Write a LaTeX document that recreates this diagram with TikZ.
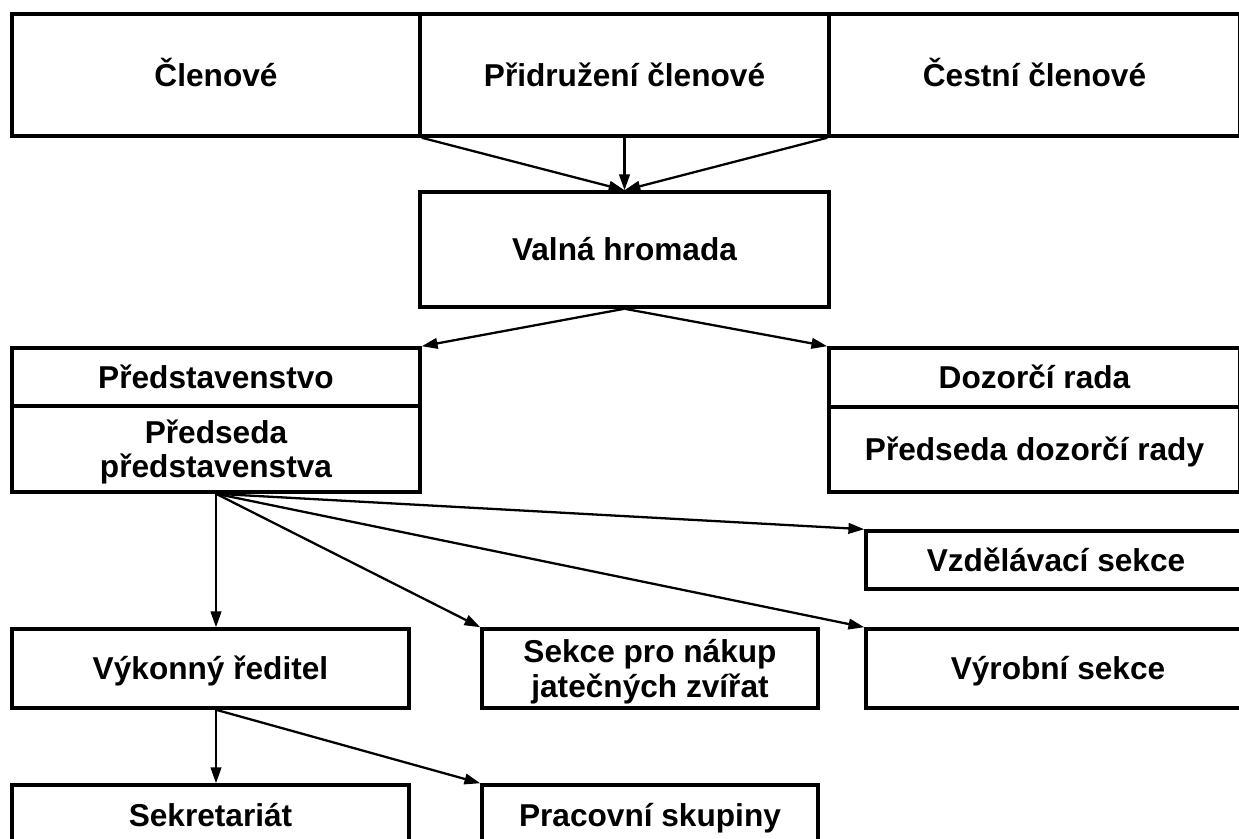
\documentclass[tikz,border=0pt]{standalone}
\usepackage{fontspec}
\setmainfont{Liberation Sans}
\usetikzlibrary{arrows.meta}
\begin{document}
\begin{tikzpicture}[x=0.02cm, y=-0.02cm,
    box/.style 2 args={draw, line width=2pt, minimum width=#1*0.02cm, minimum height=#2*0.02cm,
        inner sep=0pt, align=center, text height=13pt, text depth=0pt,
        font=\bfseries\fontsize{18}{19.5}\selectfont},
    twoline/.style={text height=, text depth=},
    arr/.style={line width=1.3pt, -{Triangle[length=9pt,width=6pt]}}]
    \useasboundingbox (0,0) rectangle (1239,838);
    % top row
    \node[box={408}{122}] (clen) at (216,75) {Členové};
    \node[box={409}{122}] (prid) at (624.5,75) {Přidružení členové};
    \node[box={411}{122}] (cest) at (1034.5,75) {Čestní členové};
    \node[box={409}{115}] (valna) at (624.5,249.5) {Valná hromada};
    \foreach \n/\a in {clen/south east, prid/south, cest/south west}
        \draw[arr] (\n.\a) -- (valna.north);
    % boards
    \node[box={408}{58}] (pred) at (216,377) {Představenstvo};
    \node[box={408}{86}, twoline] (predseda) at (216,449)
        {\rule{0pt}{13pt}\smash{Předseda}\\\smash{představenstva}};
    \node[box={411}{59}] (dozor) at (1034.5,377.5) {Dozorčí rada};
    \node[box={411}{85}] (dpred) at (1034.5,449.5) {Předseda dozorčí rady};
    \draw[arr] (valna.south) -- (pred.north east);
    \draw[arr] (valna.south) -- (dozor.north west);
    % sections
    \node[box={380}{58}] (vzdel) at (1056,560) {Vzdělávací sekce};
    \node[box={397}{79}] (vykon) at (210.5,668.5) {Výkonný ředitel};
    \node[box={336}{79}, twoline] (nakup) at (650,668.5)
        {\rule{0pt}{13pt}\smash{Sekce pro nákup}\\\smash{jatečných zvířat}};
    \node[box={384}{79}] (vyrob) at (1058,668.5) {Výrobní sekce};
    \draw[arr] (predseda.south) -- (predseda.south |- vykon.north);
    \foreach \n in {nakup, vyrob, vzdel}
        \draw[arr] (predseda.south) -- (\n.north west);
    % staff
    \node[box={397}{60}] (sekr) at (210.5,815) {Sekretariát};
    \node[box={336}{60}] (prac) at (650,815) {Pracovní skupiny};
    \draw[arr] (predseda.south |- vykon.south) -- (predseda.south |- sekr.north);
    \draw[arr] (predseda.south |- vykon.south) -- (prac.north west);
\end{tikzpicture}
\end{document}
